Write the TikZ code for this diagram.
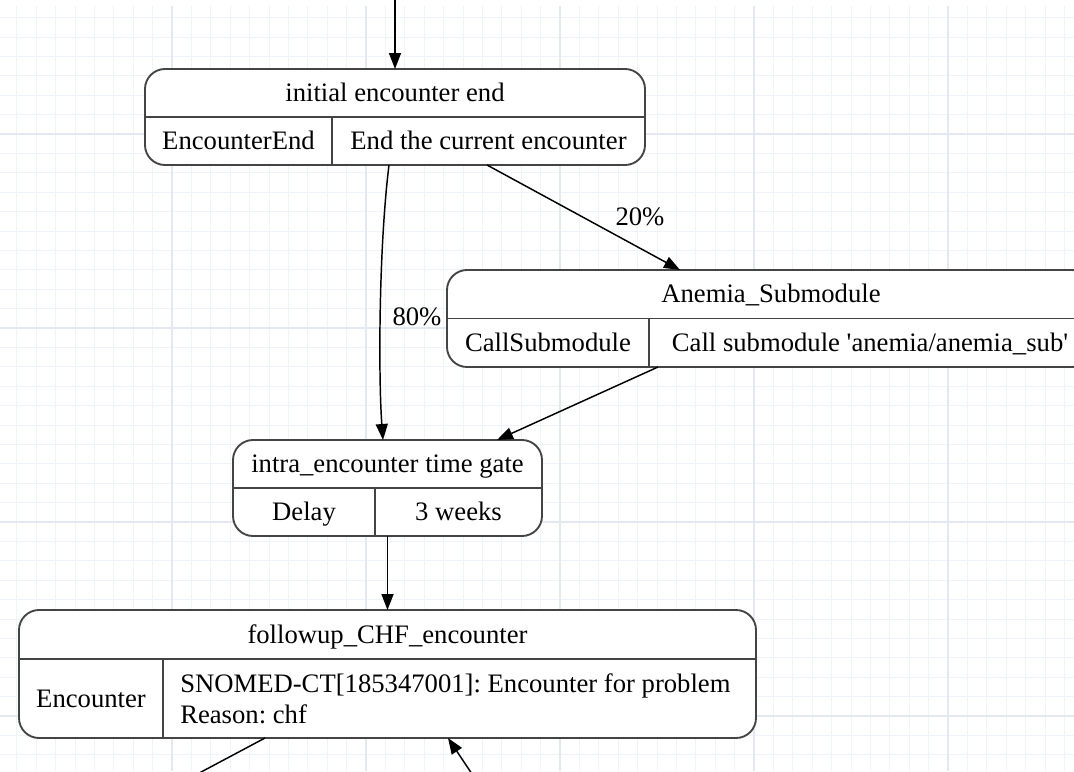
\documentclass[tikz,border=0pt]{standalone}
\usepackage{fontspec}
\setmainfont{Liberation Serif}
\usetikzlibrary{arrows.meta,calc}
\definecolor{gridminor}{HTML}{F0F3F8}
\definecolor{gridmajor}{HTML}{E3E9F1}
\definecolor{border}{HTML}{444444}
\frenchspacing
\begin{document}
\begin{tikzpicture}[x=0.75pt,y=-0.75pt,
  statebox/.style={draw=border, line width=1.4pt, rounded corners=15pt, fill=white, inner sep=0pt, outer sep=0pt},
  divider/.style={draw=border, line width=1.4pt},
  txt/.style={font=\fontsize{20}{23.25}\selectfont, inner sep=0pt, text=black, text height=13.2pt, text depth=0pt},
  multitxt/.style={font=\fontsize{20}{23.25}\selectfont, inner sep=0pt, text=black, align=left},
  edge/.style={draw=black, line width=1.1pt, -{Triangle[length=12pt,width=9pt]}},
  plainedge/.style={draw=black, line width=1.1pt},
  minorline/.style={draw=gridminor, line width=0.75pt},
  majorline/.style={draw=gridmajor, line width=0.9pt}]
\useasboundingbox (0,0) rectangle (1074,771);
\clip (0,0) rectangle (1074,771);
\fill[white] (0,0) rectangle (1074,771);
% grid
\foreach \i in {0,...,55} { \draw[minorline] ({16.8+19.4*\i},6) -- ({16.8+19.4*\i},771); }
\foreach \i in {0,...,39} { \draw[minorline] (0,{17.6+19.4*\i}) -- (1074,{17.6+19.4*\i}); }
\foreach \i in {0,...,4} { \draw[majorline] ({172+194*\i},6) -- ({172+194*\i},771); }
\foreach \i in {0,...,3} { \draw[majorline] (0,{134+194*\i}) -- (1074,{134+194*\i}); }

% nodes
\node[statebox, minimum width=375pt, minimum height=72pt] (n1) at (395,117) {};
\draw[divider] (n1.west) -- (n1.east);
\draw[divider] ($(n1.south west)+(187,0)$) -- ($(n1.west)+(187,0)$);
\node[txt] (n1t) at (395,93) {initial encounter end};
\node[txt] (n1a) at (238.5,141) {EncounterEnd};
\node[txt] (n1b) at (488.5,141) {End the current encounter};

\node[statebox, minimum width=483.75pt, minimum height=72.75pt] (anemia) at (769.5,318.5) {};
\draw[divider] (anemia.west) -- (anemia.east);
\draw[divider] ($(anemia.south west)+(202,0)$) -- ($(anemia.west)+(202,0)$);
\node[txt] (ant) at (771,294) {Anemia\_Submodule};
\node[txt] (ana) at (548,342.5) {CallSubmodule};
\node[txt] (anb) at (870,342.5) {Call submodule \textquotesingle anemia/anemia\_sub\textquotesingle};

\node[statebox, minimum width=231.75pt, minimum height=72pt] (intra) at (387.5,488) {};
\draw[divider] (intra.west) -- (intra.east);
\draw[divider] ($(intra.south west)+(142,0)$) -- ($(intra.west)+(142,0)$);
\node[txt] (int) at (387.5,464) {intra\_encounter time gate};
\node[txt] (ina) at (304,512) {Delay};
\node[txt] (inb) at (458.5,512) {3 weeks};

\node[statebox, minimum width=552.75pt, minimum height=96pt] (follow) at (387.5,674) {};
\draw[divider] ($(follow.north west)+(0,49)$) -- ($(follow.north east)+(0,49)$);
\draw[divider] ($(follow.south west)+(144,0)$) -- ($(follow.north west)+(144,49)$);
\node[txt] (fot) at (387.5,634.5) {followup\_CHF\_encounter};
\node[txt] (foa) at (91,698.5) {Encounter};
\node[multitxt, anchor=north west] (fob) at (180,673) {SNOMED-CT[185347001]: Encounter for problem\\Reason: chf};

% connectors
\coordinate (topin) at (395,-5);
\coordinate (outend) at (193.6,776);
\coordinate (instart) at (474,777);
\draw[edge] (topin) -- (n1.north);
\draw[edge] ($(n1.south)+(-6,0)$) .. controls (378.5,250) and (378.5,380) .. ($(intra.north)+(-4.5,0)$);
\node[txt] (l80) at (417,317) {80\%};
\draw[edge] ($(n1.south)+(92,0)$) -- ($(anemia.north)+(-89.5,0)$);
\node[txt] (l20) at (640,217) {20\%};
\draw[edge] ($(anemia.south)+(-111.5,0)$) -- ($(intra.north)+(109.5,0)$);
\draw[edge] (intra.south) -- (follow.north);
\draw[plainedge] ($(follow.south)+(-122.5,0)$) -- (outend);
\draw[edge] (instart) -- ($(follow.south)+(60.5,0)$);
\end{tikzpicture}
\end{document}
